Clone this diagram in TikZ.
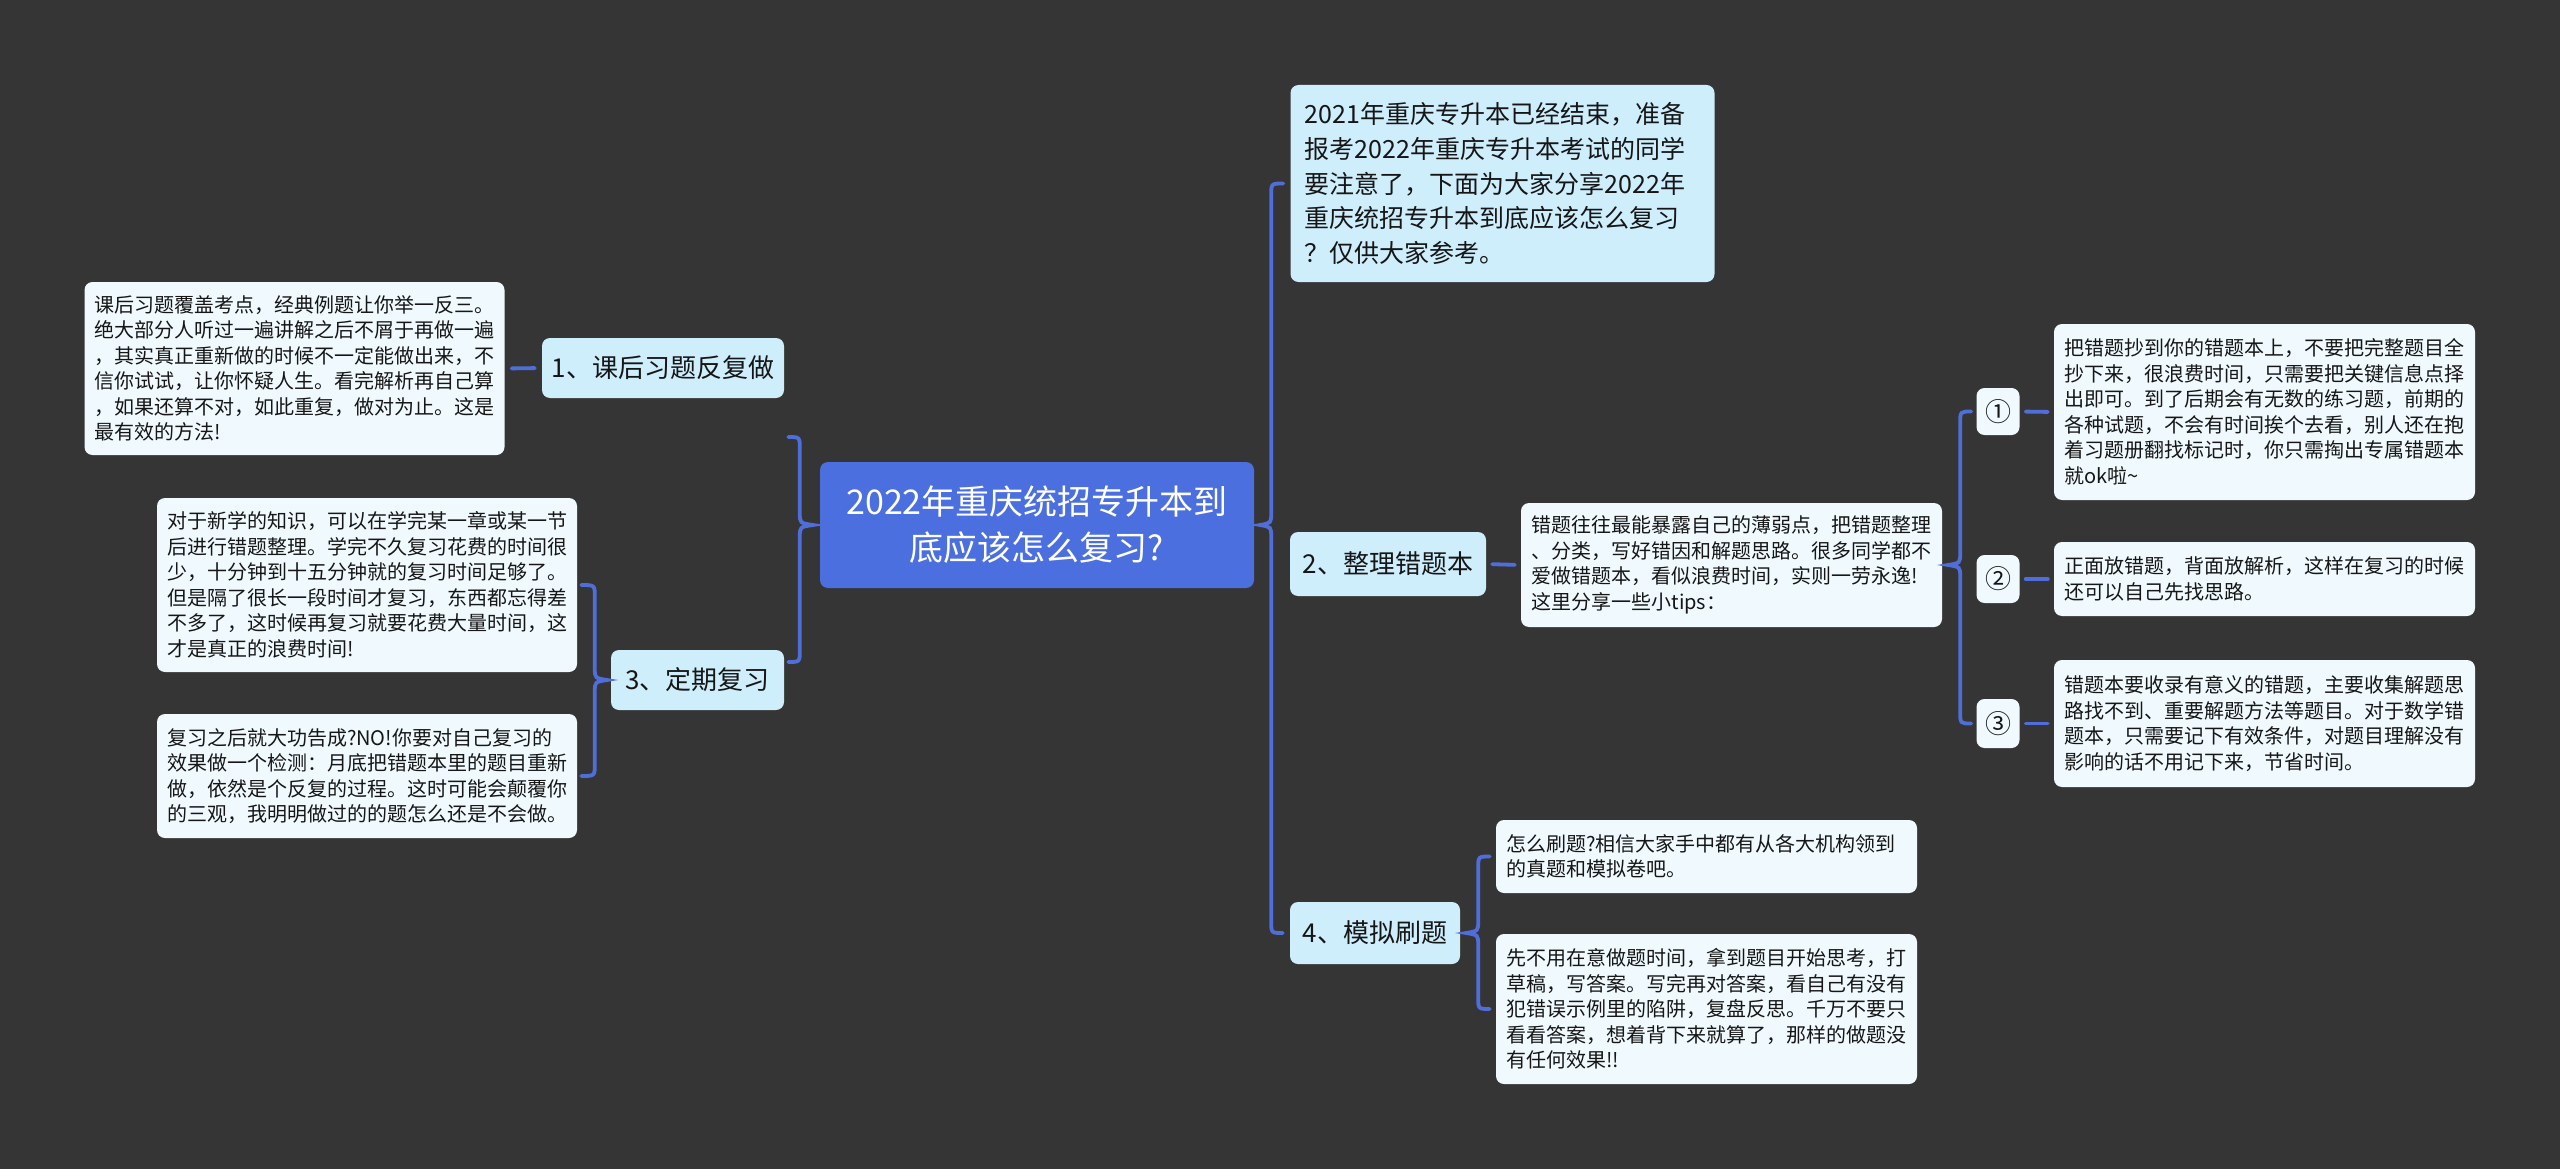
\documentclass[tikz,border=0pt]{standalone}
\usepackage{fontspec}
\setmainfont{Noto Sans CJK SC}
\usetikzlibrary{calc}
\definecolor{bg}{RGB}{54,53,53}
\definecolor{rootfill}{RGB}{75,111,222}
\definecolor{linec}{RGB}{80,110,218}
\definecolor{lonefill}{RGB}{206,238,252}
\definecolor{leaffill}{RGB}{240,250,254}
\definecolor{txt}{RGB}{22,22,22}
\tikzset{
  box/.style={rounded corners=8pt, inner sep=0pt, text=txt},
  sz/.style 2 args={minimum width=#1pt, minimum height=#2pt},
  rootbox/.style={box, fill=rootfill, text=white, align=center, font=\fontsize{34}{46}\selectfont},
  lonebox/.style={box, fill=lonefill, font=\fontsize{26}{34}\selectfont},
  introbox/.style={box, fill=lonefill, align=left, text width=396pt, font=\fontsize{25}{34.7}\selectfont},
  leafbox/.style={box, fill=leaffill, align=left, text width=400pt, font=\fontsize{20}{25.5}\selectfont},
  numbox/.style={box, fill=leaffill, font=\fontsize{26}{30}\selectfont},
  conn/.style={draw=linec, line width=3.8pt, line cap=round},
}
\newcommand{\curlybrace}[4]{%
  \draw[conn] (#3) .. controls (#1 |- #3) .. ($(#1 |- #3)+(0,12)$)
    -- ($(#1)+(0,-12)$) .. controls ($(#1)+(0,-2)$) .. (#2)
    .. controls ($(#1)+(0,2)$) .. ($(#1)+(0,12)$)
    -- ($(#1 |- #4)+(0,-12)$) .. controls (#1 |- #4) .. (#4);
}
\begin{document}
\begin{tikzpicture}[x=1pt, y=-1pt]
\fill[bg] (0,0) rectangle (2560,1169);
\useasboundingbox (0,0) rectangle (2560,1169);

% root
\node[rootbox, sz={434}{126}] (root) at (1037,525) {2022年重庆统招专升本到\\底应该怎么复习?};

% right side level 1
\node[introbox, sz={424}{197}] (intro) at (1502.5,183.5) {2021年重庆专升本已经结束，准备\\报考2022年重庆专升本考试的同学\\要注意了，下面为大家分享2022年\\重庆统招专升本到底应该怎么复习\\？仅供大家参考。};
\node[lonebox, sz={196}{64}] (n2) at (1388,564) {2、整理错题本};
\node[lonebox, sz={170}{62}] (n4) at (1375,933) {4、模拟刷题};

% left side level 1
\node[lonebox, sz={242}{60}] (n1) at (663,368) {1、课后习题反复做};
\node[lonebox, sz={173}{60}] (n3) at (697.5,680) {3、定期复习};

% left leaves
\node[leafbox, sz={420}{173}] (t1) at (294.5,368.5) {课后习题覆盖考点，经典例题让你举一反三。\\绝大部分人听过一遍讲解之后不屑于再做一遍\\，其实真正重新做的时候不一定能做出来，不\\信你试试，让你怀疑人生。看完解析再自己算\\，如果还算不对，如此重复，做对为止。这是\\最有效的方法!};
\node[leafbox, sz={420}{174}] (t3a) at (367,585) {对于新学的知识，可以在学完某一章或某一节\\后进行错题整理。学完不久复习花费的时间很\\少，十分钟到十五分钟就的复习时间足够了。\\但是隔了很长一段时间才复习，东西都忘得差\\不多了，这时候再复习就要花费大量时间，这\\才是真正的浪费时间!};
\node[leafbox, sz={420}{124}] (t3b) at (367,776) {复习之后就大功告成?NO!你要对自己复习的\\效果做一个检测：月底把错题本里的题目重新\\做，依然是个反复的过程。这时可能会颠覆你\\的三观，我明明做过的的题怎么还是不会做。};

% right leaves
\node[leafbox, sz={421}{124}] (tc) at (1731.5,565) {错题往往最能暴露自己的薄弱点，把错题整理\\、分类，写好错因和解题思路。很多同学都不\\爱做错题本，看似浪费时间，实则一劳永逸!\\这里分享一些小tips：};
\node[numbox, sz={43}{47}] (c1) at (1998,411.5) {①};
\node[numbox, sz={43}{48}] (c2) at (1998,579) {②};
\node[numbox, sz={43}{49}] (c3) at (1998,723.5) {③};
\node[leafbox, sz={421}{176}] (tc1) at (2264.5,412) {把错题抄到你的错题本上，不要把完整题目全\\抄下来，很浪费时间，只需要把关键信息点择\\出即可。到了后期会有无数的练习题，前期的\\各种试题，不会有时间挨个去看，别人还在抱\\着习题册翻找标记时，你只需掏出专属错题本\\就ok啦\textasciitilde};
\node[leafbox, sz={421}{74}] (tc2) at (2264.5,579) {正面放错题，背面放解析，这样在复习的时候\\还可以自己先找思路。};
\node[leafbox, sz={421}{127}] (tc3) at (2264.5,723.5) {错题本要收录有意义的错题，主要收集解题思\\路找不到、重要解题方法等题目。对于数学错\\题本，只需要记下有效条件，对题目理解没有\\影响的话不用记下来，节省时间。};
\node[leafbox, sz={421}{73}] (t4a) at (1706.5,856.5) {怎么刷题?相信大家手中都有从各大机构领到\\的真题和模拟卷吧。};
\node[leafbox, sz={421}{150}] (t4b) at (1706.5,1009) {先不用在意做题时间，拿到题目开始思考，打\\草稿，写答案。写完再对答案，看自己有没有\\犯错误示例里的陷阱，复盘反思。千万不要只\\看看答案，想着背下来就算了，那样的做题没\\有任何效果!!};

% straight connectors
\draw[conn, shorten <=7pt, shorten >=7pt] (t1.east) -- (n1.west);
\draw[conn, shorten <=6pt, shorten >=6pt] (n2.east) -- (tc.west);
\draw[conn, shorten <=6pt, shorten >=6pt] (c1.east) -- (tc1.west);
\draw[conn, shorten <=6pt, shorten >=6pt] (c2.east) -- (tc2.west);
\draw[conn, shorten <=6pt, shorten >=6pt] (c3.east) -- (tc3.west);

% braces
\coordinate (RBs) at ($(root.east)+(17,0)$);
\coordinate (RBt) at ($(root.east)+(6,0)$);
\coordinate (RBa) at ($(intro.west)+(-7,0)$);
\coordinate (RBb) at ($(n4.west)+(-7,0)$);
\curlybrace{RBs}{RBt}{RBa}{RBb}

\coordinate (LBs) at ($(root.west)+(-20,0)$);
\coordinate (LBt) at ($(root.west)+(-7,0)$);
\coordinate (LBa) at ($(n1.east)+(4,69)$);
\coordinate (LBb) at ($(n3.east)+(4,-18)$);
\curlybrace{LBs}{LBt}{LBa}{LBb}

\coordinate (B3s) at ($(n3.west)+(-16,0)$);
\coordinate (B3t) at ($(n3.west)+(-4,0)$);
\coordinate (B3a) at ($(t3a.east)+(4,0)$);
\coordinate (B3b) at ($(t3b.east)+(4,0)$);
\curlybrace{B3s}{B3t}{B3a}{B3b}

\coordinate (BCs) at ($(tc.east)+(18,0)$);
\coordinate (BCt) at ($(tc.east)+(6,0)$);
\coordinate (BCa) at ($(c1.west)+(-5,0)$);
\coordinate (BCb) at ($(c3.west)+(-5,0)$);
\curlybrace{BCs}{BCt}{BCa}{BCb}

\coordinate (B4s) at ($(n4.east)+(18,0)$);
\coordinate (B4t) at ($(n4.east)+(6,0)$);
\coordinate (B4a) at ($(t4a.west)+(-6,0)$);
\coordinate (B4b) at ($(t4b.west)+(-6,0)$);
\curlybrace{B4s}{B4t}{B4a}{B4b}
\end{tikzpicture}
\end{document}
